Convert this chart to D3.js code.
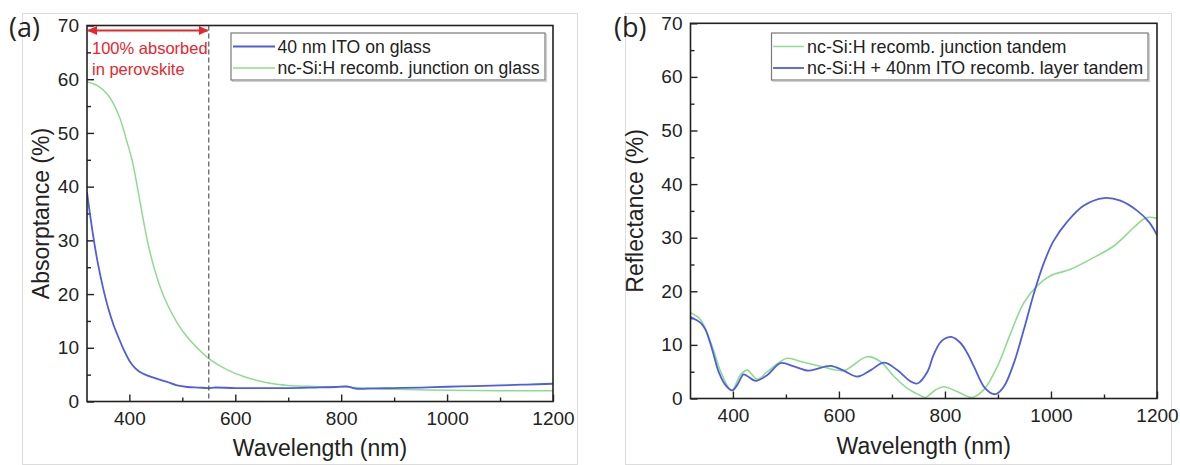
<!DOCTYPE html>
<html>
<head>
<meta charset="utf-8">
<script src="https://cdn.jsdelivr.net/npm/d3@7/dist/d3.min.js"></script>
<style>
  html, body { margin: 0; padding: 0; background: #fff; }
  svg { display: block; font-family: "Liberation Sans", Arial, sans-serif; }
</style>
</head>
<body>
<svg id="chart" width="1180" height="465"></svg>
<script>
// ---------------- DATA ----------------
// Panel (a): absorptance (%)
const absITO_nm  = [320, 325, 330, 335, 340, 350, 360, 370, 380, 390, 400, 410, 420, 430, 450, 470, 490, 510, 530, 550, 560, 600, 650, 700, 750, 790, 810, 820, 830, 850, 900, 950, 1000, 1050, 1100, 1150, 1200];
const absITO     = [39.0, 35.3, 31.9, 28.8, 26.0, 21.3, 17.4, 14.3, 11.8, 9.5, 7.6, 6.3, 5.5, 5.0, 4.3, 3.7, 3.0, 2.7, 2.6, 2.5, 2.6, 2.5, 2.5, 2.5, 2.6, 2.7, 2.8, 2.6, 2.35, 2.4, 2.5, 2.6, 2.75, 2.85, 3.0, 3.15, 3.3];
const absNcSi_nm = [320, 340, 360, 380, 395, 405, 415, 425, 435, 445, 460, 475, 490, 510, 530, 550, 585, 620, 660, 700, 750, 800, 850, 900, 1000, 1100, 1200];
const absNcSi    = [59.5, 58.8, 57.0, 53.3, 48.5, 45.0, 40.0, 34.5, 29.5, 25.5, 20.8, 17.4, 14.7, 11.9, 9.8, 8.0, 5.9, 4.5, 3.5, 3.0, 2.8, 2.7, 2.5, 2.3, 2.1, 2.0, 2.0];

// Panel (b): reflectance (%)
const refNcSi_nm = [320, 339, 361, 377, 398, 414, 427, 446, 465, 502, 528, 565, 609, 628, 653, 678, 704, 729, 751, 763, 782, 798, 823, 851, 873, 899, 924, 949, 974, 999, 1037, 1075, 1119, 1156, 1175, 1185, 1200];
const refNcSi    = [16.0, 14.7, 9.7, 5.0, 1.5, 4.4, 5.3, 3.6, 5.0, 7.5, 6.9, 6.0, 5.2, 6.3, 7.8, 6.9, 4.1, 1.9, 0.7, 0.2, 1.6, 2.2, 1.3, 0.2, 1.6, 6.0, 12.2, 17.9, 21.0, 22.9, 24.1, 26.0, 28.5, 31.9, 33.5, 33.8, 33.6];
const refITO_nm  = [320, 339, 348, 361, 373, 386, 399, 408, 420, 427, 443, 465, 490, 515, 543, 584, 609, 635, 660, 685, 710, 735, 748, 767, 778, 790, 800, 812, 829, 842, 855, 876, 895, 911, 930, 949, 968, 987, 1005, 1030, 1062, 1100, 1131, 1163, 1185, 1200];
const refITO     = [15.2, 14.1, 12.9, 9.1, 5.0, 2.5, 1.5, 2.5, 4.5, 4.2, 3.3, 4.4, 6.6, 6.0, 5.2, 6.1, 5.2, 4.1, 5.3, 6.7, 5.3, 3.2, 2.8, 5.0, 8.0, 10.3, 11.2, 11.5, 10.4, 8.5, 5.9, 1.9, 0.8, 2.2, 6.6, 12.9, 19.7, 25.4, 29.4, 32.9, 36.0, 37.4, 36.9, 35.0, 32.9, 30.5];

// Axis ticks
const xMajorTicks = [400, 600, 800, 1000, 1200];
const xMinorTicks = [500, 700, 900, 1100];
const yMajorTicks = [0, 10, 20, 30, 40, 50, 60, 70];
const yMinorTicks = [5, 15, 25, 35, 45, 55, 65];
const xDomain = [320, 1200];
const yDomain = [0, 70];
const perovskiteEdge = 550;

// Labels
const legendA = ["40 nm ITO on glass", "nc-Si:H recomb. junction on glass"];
const legendB = ["nc-Si:H recomb. junction tandem", "nc-Si:H + 40nm ITO recomb. layer tandem"];
const annotation = ["100% absorbed", "in perovskite"];

// ---------------- DRAWING ----------------
const BLUE = "#4f5de0";
const GREEN = "#8edc8e";
const RED = "#e8262b";
const svg = d3.select("#chart");

const defs = svg.append("defs");
["arrowEnd", "arrowStart"].forEach((id, i) => {
  defs.append("marker")
    .attr("id", id)
    .attr("viewBox", "0 0 10 10")
    .attr("refX", 9).attr("refY", 5)
    .attr("markerWidth", 5).attr("markerHeight", 5)
    .attr("orient", i === 0 ? "auto" : "auto-start-reverse")
    .append("path").attr("d", "M0,0.5 L10,5 L0,9.5 Z").attr("fill", RED);
});

function panel(cfg) {
  const g = svg.append("g");
  // outer light border
  g.append("rect")
    .attr("x", cfg.box[0] + 0.5).attr("y", cfg.box[1] + 0.5)
    .attr("width", cfg.box[2] - cfg.box[0]).attr("height", cfg.box[3] - cfg.box[1])
    .attr("fill", "none").attr("stroke", "#dcdcdc").attr("stroke-width", 1);

  const x = d3.scaleLinear().domain(xDomain).range([cfg.left, cfg.right]);
  const y = d3.scaleLinear().domain(yDomain).range([cfg.bottom, cfg.top]);

  const xa = g.append("g").attr("transform", `translate(0,${cfg.bottom})`)
    .call(d3.axisBottom(x).tickValues(xMajorTicks).tickSizeInner(-7).tickSizeOuter(0).tickPadding(10).tickFormat(d3.format("d")));
  const xm = g.append("g").attr("transform", `translate(0,${cfg.bottom})`)
    .call(d3.axisBottom(x).tickValues(xMinorTicks).tickSizeInner(-4).tickSizeOuter(0).tickFormat(""));
  const ya = g.append("g").attr("transform", `translate(${cfg.left},0)`)
    .call(d3.axisLeft(y).tickValues(yMajorTicks).tickSizeInner(-7).tickSizeOuter(0).tickPadding(8).tickFormat(d3.format("d")));
  const ym = g.append("g").attr("transform", `translate(${cfg.left},0)`)
    .call(d3.axisLeft(y).tickValues(yMinorTicks).tickSizeInner(-4).tickSizeOuter(0).tickFormat(""));
  [xa, xm, ya, ym].forEach(a => {
    a.select(".domain").remove();
    a.selectAll("line").attr("stroke", "#222").attr("stroke-width", 1.4);
    a.selectAll("text").attr("fill", "#222").style("font-size", "19px")
      .style("font-family", '"Liberation Sans", Arial, sans-serif');
  });

  const line = d3.line().x(d => x(d[0])).y(d => y(d[1])).curve(d3.curveCatmullRom.alpha(0.5));
  const clipId = "clip" + cfg.name;
  defs.append("clipPath").attr("id", clipId).append("rect")
    .attr("x", cfg.left).attr("y", cfg.top).attr("width", cfg.right - cfg.left).attr("height", cfg.bottom - cfg.top);
  cfg.series.forEach(s => {
    g.append("path")
      .datum(s.nm.map((v, i) => [v, s.val[i]]))
      .attr("d", line)
      .attr("fill", "none")
      .attr("stroke", s.color)
      .attr("stroke-width", s.width)
      .attr("clip-path", `url(#${clipId})`);
  });

  if (cfg.extra) cfg.extra(g, x, y);

  g.append("rect")
    .attr("x", cfg.left).attr("y", cfg.top)
    .attr("width", cfg.right - cfg.left).attr("height", cfg.bottom - cfg.top)
    .attr("fill", "none").attr("stroke", "#222").attr("stroke-width", 1.6);

  const L = cfg.legend;
  g.append("rect").attr("x", L.x0 + 1.5).attr("y", L.y0 + 1.5).attr("width", L.x1 - L.x0).attr("height", L.y1 - L.y0)
    .attr("fill", "none").attr("stroke", "#d0d0d0").attr("stroke-width", 1.2);
  g.append("rect").attr("x", L.x0).attr("y", L.y0).attr("width", L.x1 - L.x0).attr("height", L.y1 - L.y0)
    .attr("fill", "#fff").attr("stroke", "#7a7a7a").attr("stroke-width", 1.2);
  L.items.forEach((it, i) => {
    const yy = L.rows[i];
    g.append("line").attr("x1", L.lx0).attr("x2", L.lx1).attr("y1", yy).attr("y2", yy)
      .attr("stroke", it.color).attr("stroke-width", it.width);
    g.append("text").attr("x", L.tx).attr("y", yy).attr("dy", "0.36em")
      .attr("fill", "#222").style("font-size", L.size).text(it.label);
  });

  g.append("text").attr("x", (cfg.left + cfg.right) / 2).attr("y", cfg.xTitleY)
    .attr("text-anchor", "middle").attr("fill", "#222").style("font-size", "23px").text("Wavelength (nm)");
  g.append("text").attr("transform", `translate(${cfg.yTitleX},${(cfg.top + cfg.bottom) / 2}) rotate(-90)`)
    .attr("text-anchor", "middle").attr("fill", "#222").style("font-size", "23px").text(cfg.yTitle);

  g.append("text").attr("x", cfg.letterX).attr("y", 37)
    .attr("fill", "#222").style("font-size", "27px").style("font-family", '"Open Sans", "DejaVu Sans", sans-serif')
    .text(cfg.letter);
}

panel({
  name: "A", letter: "(a)", letterX: 9,
  box: [22, 13, 577, 464],
  left: 87, right: 553, top: 25.5, bottom: 401.5,
  xTitleY: 456, yTitleX: 49, yTitle: "Absorptance (%)",
  series: [
    { nm: absNcSi_nm, val: absNcSi, color: GREEN, width: 1.5 },
    { nm: absITO_nm, val: absITO, color: BLUE, width: 1.8 }
  ],
  legend: {
    x0: 231, x1: 545, y0: 33, y1: 80, rows: [46.5, 68], lx0: 233, lx1: 275, tx: 277.5, size: "17.6px",
    items: [
      { label: legendA[0], color: BLUE, width: 1.8 },
      { label: legendA[1], color: GREEN, width: 1.5 }
    ]
  },
  extra: (g, x, y) => {
    g.append("line").attr("x1", x(perovskiteEdge)).attr("x2", x(perovskiteEdge))
      .attr("y1", y(70)).attr("y2", y(0))
      .attr("stroke", "#555").attr("stroke-width", 1.2).attr("stroke-dasharray", "5,3");
    g.append("line").attr("x1", x(322)).attr("x2", x(548)).attr("y1", 30.5).attr("y2", 30.5)
      .attr("stroke", RED).attr("stroke-width", 2)
      .attr("marker-end", "url(#arrowEnd)").attr("marker-start", "url(#arrowStart)");
    g.append("text").attr("x", 92).attr("y", 54).attr("fill", RED).style("font-size", "16.5px").text(annotation[0]);
    g.append("text").attr("x", 92).attr("y", 75).attr("fill", RED).style("font-size", "16.5px").text(annotation[1]);
  }
});

panel({
  name: "B", letter: "(b)", letterX: 614,
  box: [625, 13, 1171, 464],
  left: 690.5, right: 1157, top: 23.3, bottom: 398.5,
  xTitleY: 454, yTitleX: 643, yTitle: "Reflectance (%)",
  series: [
    { nm: refNcSi_nm, val: refNcSi, color: GREEN, width: 1.6 },
    { nm: refITO_nm, val: refITO, color: BLUE, width: 1.8 }
  ],
  legend: {
    x0: 771.5, x1: 1148, y0: 33, y1: 80, rows: [46.5, 68], lx0: 773, lx1: 804, tx: 807, size: "17.9px",
    items: [
      { label: legendB[0], color: GREEN, width: 1.5 },
      { label: legendB[1], color: BLUE, width: 1.8 }
    ]
  }
});
</script>
</body>
</html>
